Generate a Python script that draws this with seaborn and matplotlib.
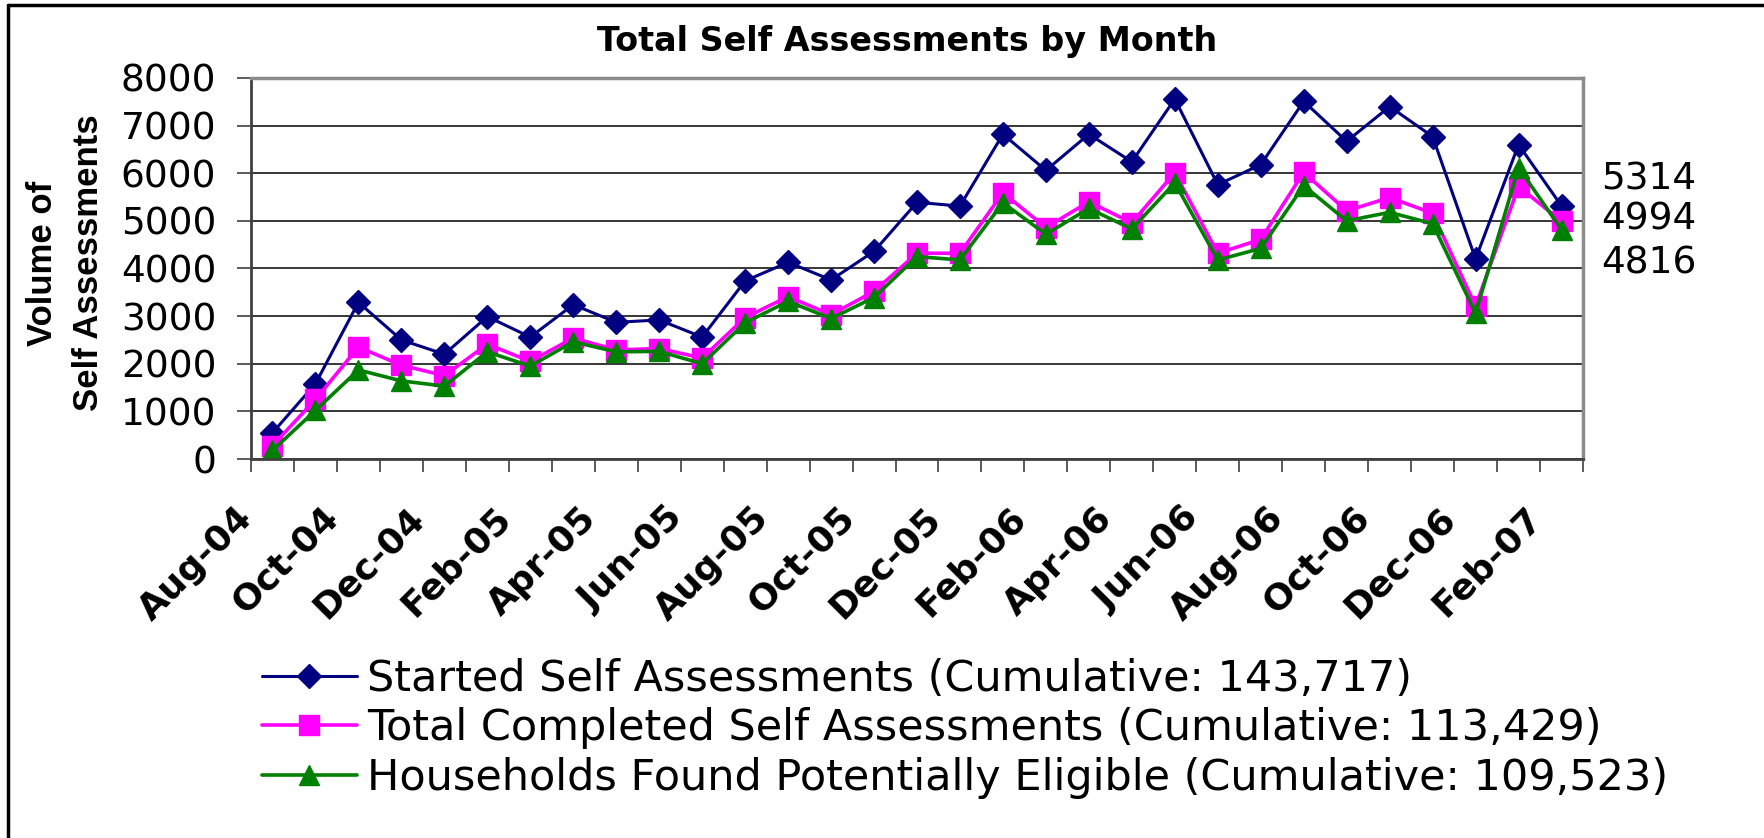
import numpy as np
import pandas as pd
import seaborn as sns
import matplotlib.pyplot as plt
import matplotlib.transforms as mtransforms
from matplotlib.lines import Line2D

# monthly data, Aug-04 .. Feb-07
months = ['Aug-04', 'Sep-04', 'Oct-04', 'Nov-04', 'Dec-04', 'Jan-05', 'Feb-05', 'Mar-05',
          'Apr-05', 'May-05', 'Jun-05', 'Jul-05', 'Aug-05', 'Sep-05', 'Oct-05', 'Nov-05',
          'Dec-05', 'Jan-06', 'Feb-06', 'Mar-06', 'Apr-06', 'May-06', 'Jun-06', 'Jul-06',
          'Aug-06', 'Sep-06', 'Oct-06', 'Nov-06', 'Dec-06', 'Jan-07', 'Feb-07']
started = [550, 1580, 3290, 2500, 2200, 2990, 2560, 3240, 2870, 2920, 2560, 3740, 4130, 3760,
           4360, 5390, 5310, 6820, 6060, 6820, 6240, 7560, 5760, 6180, 7510, 6670, 7400, 6770,
           4200, 6600, 5314]
completed = [280, 1250, 2350, 1970, 1750, 2410, 2050, 2540, 2290, 2320, 2120, 2970, 3410, 3030,
             3520, 4320, 4320, 5590, 4860, 5400, 4960, 6010, 4320, 4610, 6020, 5210, 5490, 5160,
             3210, 5720, 4994]
eligible = [180, 1020, 1870, 1640, 1530, 2250, 1950, 2460, 2250, 2260, 2000, 2860, 3310, 2950,
            3390, 4250, 4180, 5380, 4720, 5260, 4830, 5800, 4180, 4420, 5740, 5000, 5180, 4940,
            3060, 6120, 4816]
series_labels = ['Started Self Assessments (Cumulative: 143,717)',
                 'Total Completed Self Assessments (Cumulative: 113,429)',
                 'Households Found Potentially Eligible (Cumulative: 109,523)']

df = pd.DataFrame({'pos': np.arange(len(months)), 'month': months,
                   'started': started, 'completed': completed, 'eligible': eligible})

sns.set_style('white')
plt.rcParams['font.family'] = ['DejaVu Sans']
plt.rcParams['text.color'] = 'black'
plt.rcParams['xtick.labelcolor'] = 'black'
plt.rcParams['ytick.labelcolor'] = 'black'

W, H = 1764, 838
fig = plt.figure(figsize=(W / 100, H / 100), dpi=100)
ax = fig.add_axes([251 / W, 1 - 459 / H, 1332 / W, 381 / H])

styles = [('started', '#000080', 'D', 12, 2.2),
          ('completed', '#FF00FF', 's', 14, 2.6),
          ('eligible', '#008000', '^', 15, 2.6)]
for (col, color, marker, ms, lw), lab in zip(styles, series_labels):
    sns.lineplot(data=df, x='pos', y=col, ax=ax, color=color, marker=marker,
                 markersize=ms, markeredgecolor=color, markeredgewidth=1,
                 linewidth=lw, label=lab, sort=False)

ax.set_xlim(-0.5, len(months) - 0.5)
ax.set_ylim(0, 8000)
ax.set_xlabel('')
ax.set_ylabel('')

ax.set_yticks(range(0, 8001, 1000))
ax.yaxis.grid(True, color='black', linewidth=1.1)
ax.set_axisbelow(True)
ax.tick_params(axis='y', left=True, length=10, width=1.2, color='#404040',
               direction='out', pad=15, labelsize=27)

ax.set_xticks(df['pos'][::2])
ax.set_xticklabels(df['month'][::2], rotation=45, ha='right', fontweight='bold', fontsize=26)
ax.set_xticks(np.arange(-0.5, len(months)), minor=True)
ax.tick_params(axis='x', which='major', bottom=True, length=0, pad=30)
ax.tick_params(axis='x', which='minor', bottom=True, length=9, width=1.2,
               color='#404040', direction='out')
shift = mtransforms.ScaledTranslation(-0.13, 0, fig.dpi_scale_trans)
for lbl in ax.get_xticklabels():
    lbl.set_transform(lbl.get_transform() + shift)

for side in ['left', 'bottom']:
    ax.spines[side].set_color('#404040')
    ax.spines[side].set_linewidth(2)
for side in ['top', 'right']:
    ax.spines[side].set_color('#8c8c8c')
    ax.spines[side].set_linewidth(2.5)

handles, labels = ax.get_legend_handles_labels()
ax.legend_.remove()
fig.legend(handles, labels, loc='upper left', bbox_to_anchor=(262 / W, 1 - 658 / H),
           frameon=False, fontsize=31, handlelength=2.2, handletextpad=0.25,
           labelspacing=0.17, borderaxespad=0, borderpad=0)

fig.text(907 / W, 1 - 42 / H, 'Total Self Assessments by Month', ha='center', va='center',
         fontsize=24, fontweight='bold')
fig.text(65 / W, 1 - 263 / H, 'Volume of\nSelf Assessments', ha='center', va='center',
         rotation=90, fontsize=25, fontweight='bold', family='Liberation Sans',
         linespacing=1.5, multialignment='center')

# last values shown at the right of the plot
for val, ypx in zip([started[-1], completed[-1], eligible[-1]], [179, 220, 263]):
    fig.text(1601 / W, 1 - ypx / H, str(val), ha='left', va='center', fontsize=27)

# outer frame (top and left edges)
fig.add_artist(Line2D([8 / W, 8 / W], [0, 1 - 5 / H], color='black', linewidth=2.5,
                      transform=fig.transFigure))
fig.add_artist(Line2D([8 / W, 1], [1 - 5 / H, 1 - 5 / H], color='black', linewidth=2.5,
                      transform=fig.transFigure))

fig.savefig('out.png', dpi=100)
